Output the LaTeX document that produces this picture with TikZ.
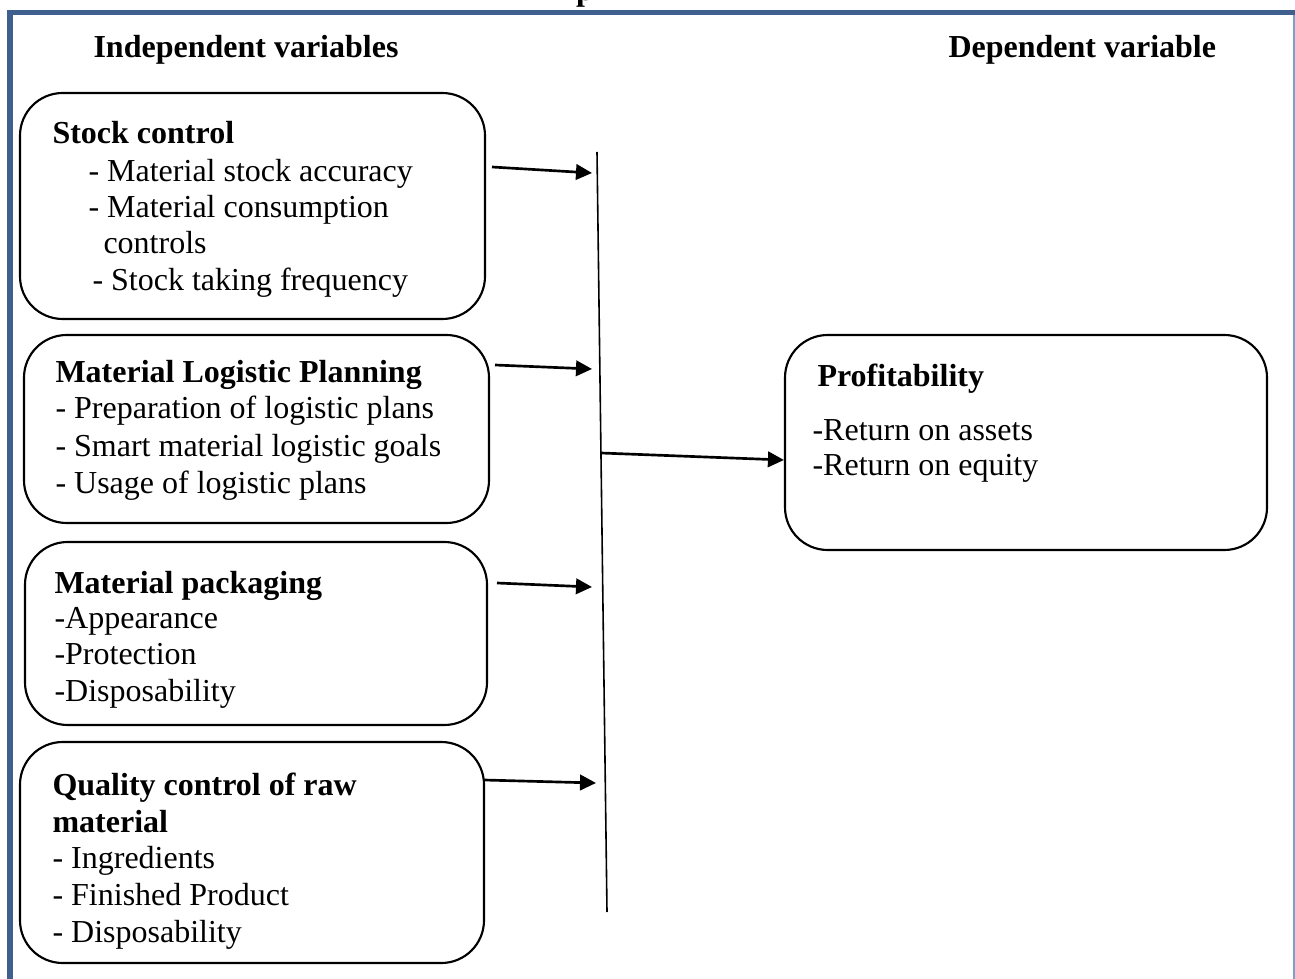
\documentclass[tikz,border=0pt]{standalone}
\usepackage{fontspec}
\setmainfont{Liberation Serif}
\usetikzlibrary{arrows.meta,fit}
\definecolor{frameblue}{HTML}{3F5F8F}
\definecolor{framelight}{HTML}{7F9FC8}
\tikzset{
  box/.style={draw, line width=0.8pt, rounded corners=16pt, inner sep=0pt},
  txt/.style={anchor=base west, inner sep=0pt, font=\fontsize{12}{14}\selectfont},
  head/.style={txt, font=\fontsize{12}{14}\selectfont\bfseries},
  conn/.style={line width=1pt, -{Triangle[length=6pt,width=5.8pt]}},
  bar/.style={line width=0.6pt}
}
\begin{document}
\begin{tikzpicture}[x=0.375pt, y=-0.375pt]
\useasboundingbox (0,0) rectangle (1295,979);
\begin{scope}
\clip (0,0) rectangle (1295,979);
% frame
\fill[frameblue] (7,10) rectangle (1295,15.5);
\fill[frameblue] (7,10) rectangle (12.5,979);
\draw[framelight, line width=1pt] (1294,15) -- (1294,979);
% cut-off title
\node[anchor=base, inner sep=0pt, font=\fontsize{12}{14}\selectfont\bfseries] (title) at (585,1) {p};
\end{scope}

% headings
\node[head] (hind) at (93,58) {Independent variables};
\node[head] (hdep) at (948,58) {Dependent variable};

% boxes
\node[box, fit={(20,93) (485,319)}] (b1) {};
\node[box, fit={(24,335) (489,523)}] (b2) {};
\node[box, fit={(25,542) (487,725)}] (b3) {};
\node[box, fit={(20,742) (484,963)}] (b4) {};
\node[box, fit={(785,335) (1267,550)}] (bp) {};

% box 1 text
\node[head] (t11) at (52,144) {Stock control};
\node[txt] (t12) at (88,182) {- Material stock accuracy};
\node[txt] (t13) at (88,218) {- Material consumption};
\node[txt] (t14) at (103,254) {controls};
\node[txt] (t15) at (92,291) {- Stock taking frequency};

% box 2 text
\node[head] (t21) at (55,383) {Material Logistic Planning};
\node[txt] (t22) at (55,419) {- Preparation of logistic plans};
\node[txt] (t23) at (55,457) {- Smart material logistic goals};
\node[txt] (t24) at (55,494) {- Usage of logistic plans};

% box 3 text
\node[head] (t31) at (54,593) {Material packaging};
\node[txt] (t32) at (54,628) {-Appearance};
\node[txt] (t33) at (54,664) {-Protection};
\node[txt] (t34) at (54,701) {-Disposability};

% box 4 text
\node[head] (t41) at (52,795) {Quality control of raw};
\node[head] (t42) at (52,832) {material};
\node[txt] (t43) at (52,868) {- Ingredients};
\node[txt] (t44) at (52,905) {- Finished Product};
\node[txt] (t45) at (52,942) {- Disposability};

% profitability text
\node[head] (tp1) at (817,387) {Profitability};
\node[txt] (tp2) at (812,441) {-Return on assets};
\node[txt] (tp3) at (812,476) {-Return on equity};

% vertical collector line
\coordinate (vtop) at (597,152);
\coordinate (vbot) at (607,912);
\draw[bar] (vtop) -- (vbot);

% arrow endpoints
\coordinate (s1) at (492,167);
\coordinate (e1) at (592,173);
\coordinate (s2) at (495,365);
\coordinate (e2) at (592,369);
\coordinate (s3) at (497,583);
\coordinate (e3) at (592,587);
\coordinate (s4) at (484,780);
\coordinate (e4) at (596,783);
\coordinate (sm) at (601,453);

\draw[conn] (s1) -- (e1);
\draw[conn] (s2) -- (e2);
\draw[conn] (s3) -- (e3);
\draw[conn] (s4) -- (e4);
\draw[conn] (sm) -- (bp.west |- 0,460);
\end{tikzpicture}
\end{document}
